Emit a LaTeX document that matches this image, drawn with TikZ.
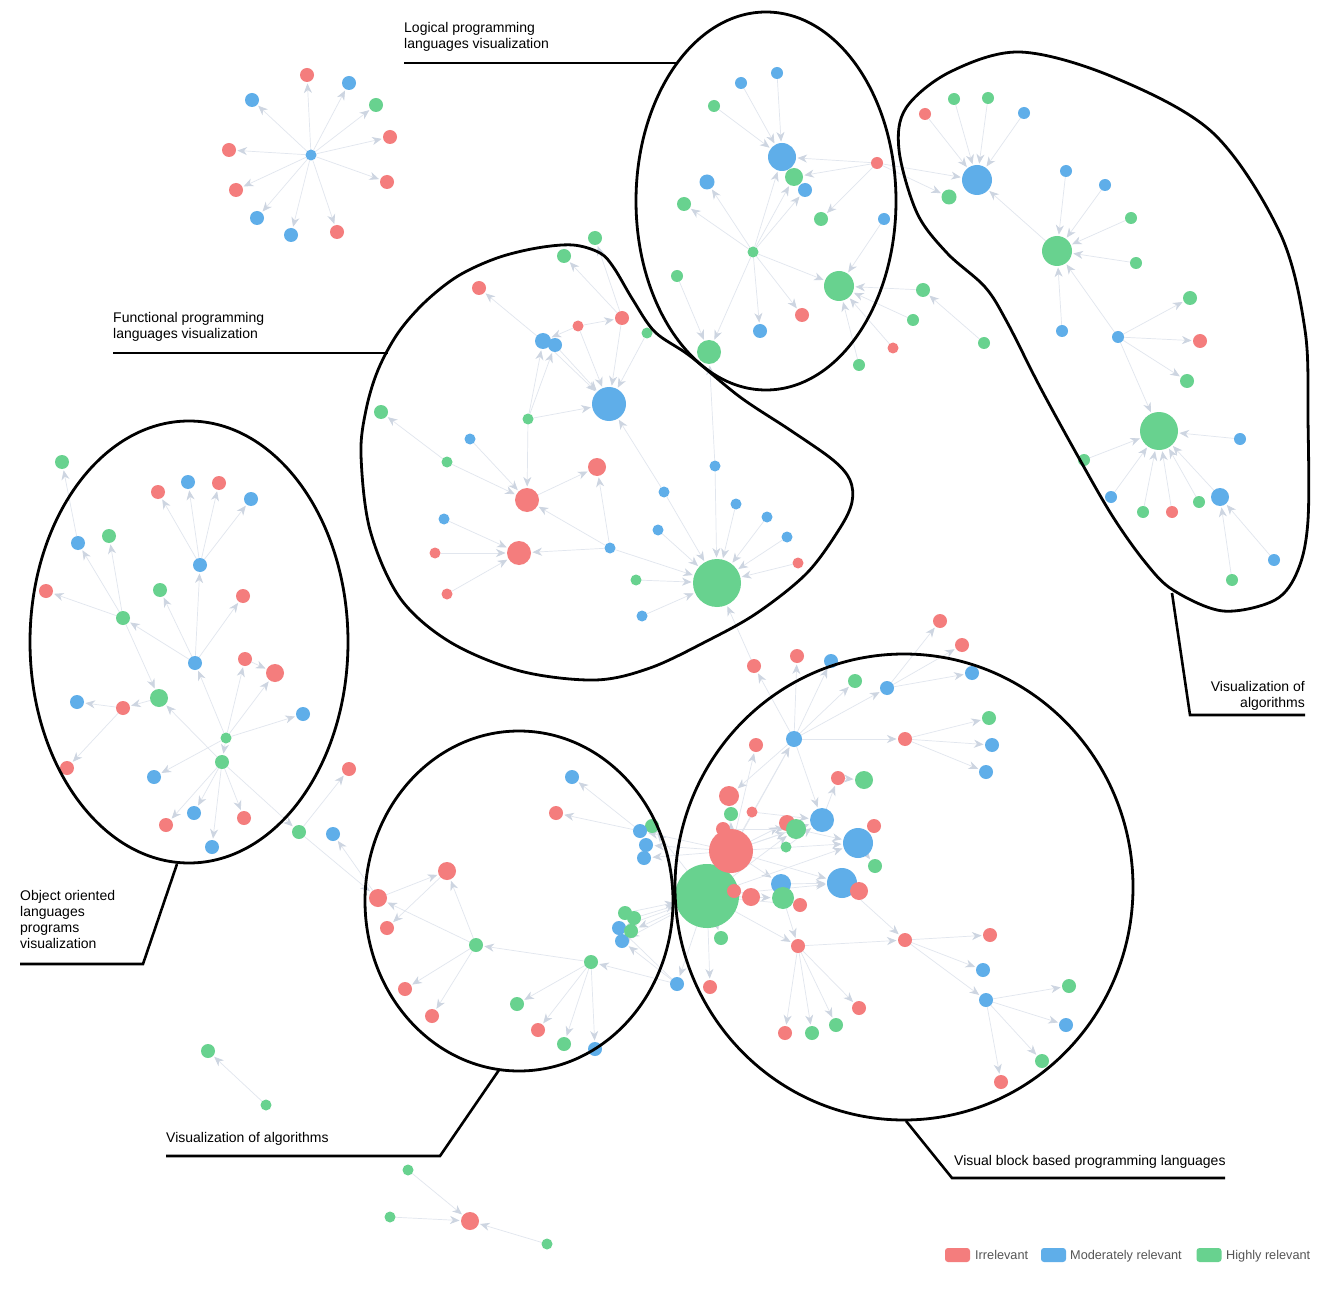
\documentclass[tikz,border=0pt]{standalone}
\usepackage{fontspec}
\setmainfont{Liberation Sans}
\usetikzlibrary{arrows.meta,backgrounds}
\definecolor{cR}{HTML}{F47D7D}
\definecolor{cB}{HTML}{5FAEE9}
\definecolor{cG}{HTML}{68D28F}
\definecolor{cE}{HTML}{E1E6EE}
\definecolor{cA}{HTML}{CDD5E1}
\definecolor{cT}{HTML}{555555}
\begin{document}
\begin{tikzpicture}[x=1pt,y=-1pt,
  nd/.style={circle,inner sep=0pt,outer sep=0pt,draw=none},
  rn/.style={nd,fill=cR,minimum size=#1},
  bn/.style={nd,fill=cB,minimum size=#1},
  gn/.style={nd,fill=cG,minimum size=#1},
  edge/.style={draw=cE,line width=0.7pt,-{Stealth[length=9.5pt,width=8pt,inset=3pt,color=cA]},shorten >=1.5pt},
  outline/.style={draw=black,line width=2.8pt},
  lead/.style={draw=black,line width=2.6pt},
  lbl/.style={font=\fontsize{14}{16}\selectfont,inner sep=0pt},
  leg/.style={font=\fontsize{12.7}{14}\selectfont,text=cT,inner sep=0pt,anchor=base west},
  key/.style={rectangle,rounded corners=3pt,minimum width=25pt,minimum height=14pt,inner sep=0pt,draw=none}]
\useasboundingbox (0,0) rectangle (1325,1305);

% ---------- cluster A (top-left star)
\node[bn=11] (a0) at (311,155) {};
\node[rn=14] (a1) at (307,75) {};
\node[bn=14] (a2) at (349,83) {};
\node[gn=14] (a3) at (376,105) {};
\node[rn=14] (a4) at (390,137) {};
\node[rn=14] (a5) at (387,182) {};
\node[rn=14] (a6) at (337,232) {};
\node[bn=14] (a7) at (291,235) {};
\node[bn=14] (a8) at (257,218) {};
\node[rn=14] (a9) at (236,190) {};
\node[rn=14] (a10) at (229,150) {};
\node[bn=14] (a11) at (252,100) {};

% ---------- logical
\node[bn=12] (L1) at (777,73) {};
\node[bn=12] (L2) at (741,83) {};
\node[gn=12] (L3) at (714,106) {};
\node[bn=28] (L4) at (782,157) {};
\node[gn=18] (L5) at (794,177) {};
\node[bn=14] (L6) at (805,190) {};
\node[rn=12] (L7) at (877,163) {};
\node[bn=15] (L8) at (707,182) {};
\node[gn=14] (L9) at (684,204) {};
\node[gn=14] (L10) at (821,219) {};
\node[bn=12] (L11) at (884,219) {};
\node[gn=11] (L12) at (753,252) {};
\node[gn=12] (L13) at (677,276) {};
\node[gn=30] (L14) at (839,286) {};
\node[rn=14] (L15) at (802,315) {};
\node[bn=14] (L16) at (760,331) {};
\node[gn=24] (L17) at (709,352) {};
\node[gn=14] (L18) at (923,290) {};
\node[gn=12] (L19) at (913,320) {};
\node[rn=11] (L20) at (893,348) {};
\node[gn=12] (L21) at (984,343) {};
\node[gn=12] (L22) at (859,365) {};

% ---------- algorithms (top right)
\node[rn=12] (T1) at (925,114) {};
\node[gn=12] (T2) at (954,99) {};
\node[gn=12] (T3) at (988,98) {};
\node[bn=12] (T4) at (1024,113) {};
\node[bn=30] (T5) at (977,180) {};
\node[gn=15] (T6) at (949,197) {};
\node[bn=12] (T7) at (1066,171) {};
\node[bn=12] (T8) at (1105,185) {};
\node[gn=12] (T9) at (1131,218) {};
\node[gn=12] (T10) at (1136,263) {};
\node[gn=30] (T11) at (1057,251) {};
\node[gn=14] (T12) at (1190,298) {};
\node[bn=12] (T13) at (1062,331) {};
\node[bn=12] (T14) at (1118,337) {};
\node[rn=14] (T15) at (1200,341) {};
\node[gn=14] (T16) at (1187,381) {};
\node[gn=38] (T17) at (1159,431) {};
\node[bn=12] (T18) at (1240,439) {};
\node[gn=12] (T19) at (1084,460) {};
\node[bn=12] (T20) at (1111,497) {};
\node[gn=12] (T21) at (1143,512) {};
\node[rn=12] (T22) at (1172,512) {};
\node[gn=12] (T23) at (1199,502) {};
\node[bn=18] (T24) at (1220,497) {};
\node[bn=12] (T25) at (1274,560) {};
\node[gn=12] (T26) at (1232,580) {};

% ---------- functional
\node[rn=14] (F1) at (479,288) {};
\node[gn=14] (F2) at (564,256) {};
\node[gn=14] (F3) at (595,238) {};
\node[rn=11] (F4) at (578,326) {};
\node[rn=14] (F5) at (622,318) {};
\node[gn=11] (F6) at (647,333) {};
\node[bn=16] (F7) at (543,341) {};
\node[bn=14] (F8) at (555,345) {};
\node[bn=34] (F9) at (609,404) {};
\node[gn=11] (F10) at (528,419) {};
\node[bn=11] (F11) at (470,439) {};
\node[gn=11] (F12) at (447,462) {};
\node[gn=14] (F13) at (381,412) {};
\node[rn=24] (F14) at (527,500) {};
\node[rn=18] (F15) at (597,467) {};
\node[bn=11] (F16) at (444,519) {};
\node[rn=24] (F17) at (519,553) {};
\node[rn=11] (F18) at (435,553) {};
\node[rn=11] (F19) at (447,594) {};
\node[bn=11] (F20) at (610,548) {};
\node[bn=11] (F21) at (664,492) {};
\node[bn=11] (F22) at (658,530) {};
\node[gn=11] (F23) at (636,580) {};
\node[bn=11] (F24) at (642,616) {};
\node[gn=48] (F25) at (717,583) {};
\node[bn=11] (F26) at (715,466) {};
\node[bn=11] (F27) at (736,504) {};
\node[bn=11] (F28) at (767,517) {};
\node[bn=11] (F29) at (787,537) {};
\node[rn=11] (F30) at (798,563) {};

% ---------- object oriented
\node[gn=14] (O1) at (62,462) {};
\node[rn=14] (O2) at (158,492) {};
\node[bn=14] (O3) at (188,482) {};
\node[rn=14] (O4) at (219,483) {};
\node[bn=14] (O5) at (251,499) {};
\node[bn=14] (O6) at (78,543) {};
\node[gn=14] (O7) at (109,536) {};
\node[bn=14] (O8) at (200,565) {};
\node[gn=14] (O9) at (160,590) {};
\node[rn=14] (O10) at (243,596) {};
\node[rn=14] (O11) at (46,591) {};
\node[gn=14] (O12) at (123,618) {};
\node[bn=14] (O13) at (195,663) {};
\node[rn=14] (O14) at (245,659) {};
\node[rn=18] (O15) at (275,673) {};
\node[gn=18] (O16) at (159,698) {};
\node[bn=14] (O17) at (77,702) {};
\node[rn=14] (O18) at (123,708) {};
\node[bn=14] (O19) at (303,714) {};
\node[gn=11] (O20) at (226,738) {};
\node[gn=14] (O21) at (222,762) {};
\node[rn=14] (O22) at (67,768) {};
\node[bn=14] (O23) at (154,777) {};
\node[bn=14] (O24) at (194,813) {};
\node[rn=14] (O25) at (244,818) {};
\node[rn=14] (O26) at (166,825) {};
\node[bn=14] (O27) at (212,847) {};
\node[gn=14] (O28) at (299,832) {};
\node[rn=14] (O29) at (349,769) {};
\node[bn=14] (O30) at (333,834) {};

% ---------- visualization of algorithms (bottom)
\node[bn=14] (P1) at (572,777) {};
\node[rn=14] (P2) at (556,813) {};
\node[gn=14] (P3) at (652,826) {};
\node[bn=14] (P4) at (640,831) {};
\node[bn=14] (P5) at (646,845) {};
\node[bn=14] (P6) at (644,858) {};
\node[rn=18] (P7) at (447,871) {};
\node[rn=18] (P8) at (378,898) {};
\node[rn=14] (P9) at (387,928) {};
\node[gn=14] (P10) at (476,945) {};
\node[bn=14] (P13) at (619,928) {};
\node[bn=14] (P15) at (622,941) {};
\node[gn=14] (P11) at (625,913) {};
\node[gn=14] (P12) at (634,918) {};
\node[gn=14] (P14) at (631,931) {};
\node[gn=14] (P16) at (591,962) {};
\node[bn=14] (P17) at (677,984) {};
\node[rn=14] (P18) at (405,989) {};
\node[rn=14] (P19) at (432,1016) {};
\node[gn=14] (P20) at (517,1004) {};
\node[rn=14] (P21) at (538,1030) {};
\node[gn=14] (P22) at (564,1044) {};
\node[bn=14] (P23) at (595,1049) {};

% ---------- visual block based (big circle)
\node[rn=14] (V1) at (754,666) {};
\node[rn=14] (V2) at (797,656) {};
\node[bn=14] (V3) at (831,661) {};
\node[gn=14] (V4) at (855,681) {};
\node[bn=14] (V5) at (887,688) {};
\node[rn=14] (V6) at (940,621) {};
\node[rn=14] (V7) at (962,645) {};
\node[bn=14] (V8) at (972,673) {};
\node[bn=16] (V9) at (794,739) {};
\node[rn=14] (V10) at (905,739) {};
\node[gn=14] (V11) at (989,718) {};
\node[bn=14] (V12) at (992,745) {};
\node[bn=14] (V13) at (986,772) {};
\node[rn=14] (V14) at (756,745) {};
\node[rn=14] (V15) at (838,778) {};
\node[gn=18] (V16) at (864,780) {};
\node[rn=20] (V17) at (729,796) {};
\node[gn=14] (V18) at (731,814) {};
\node[rn=11] (V19) at (752,812) {};
\node[rn=16] (V20) at (787,823) {};
\node[gn=20] (V21) at (796,829) {};
\node[bn=24] (V22) at (822,820) {};
\node[bn=30] (V24) at (858,843) {};
\node[rn=14] (V23) at (874,826) {};
\node[gn=14] (V25) at (875,866) {};
\node[gn=64] (V29) at (707,896) {};
\node[rn=14] (V26) at (723,829) {};
\node[rn=44] (V27) at (731,851) {};
\node[gn=11] (V28) at (786,847) {};
\node[rn=14] (V30) at (734,891) {};
\node[rn=18] (V31) at (751,897) {};
\node[bn=20] (V32) at (781,884) {};
\node[gn=22] (V33) at (783,898) {};
\node[rn=14] (V34) at (800,905) {};
\node[bn=30] (V35) at (842,883) {};
\node[rn=18] (V36) at (859,891) {};
\node[gn=14] (V37) at (721,938) {};
\node[rn=14] (V39) at (710,987) {};
\node[rn=14] (V40) at (798,946) {};
\node[rn=14] (V41) at (905,940) {};
\node[rn=14] (V42) at (990,935) {};
\node[bn=14] (V43) at (983,970) {};
\node[bn=14] (V44) at (986,1000) {};
\node[gn=14] (V45) at (1069,986) {};
\node[bn=14] (V46) at (1066,1025) {};
\node[gn=14] (V47) at (1042,1061) {};
\node[rn=14] (V48) at (1001,1082) {};
\node[rn=14] (V49) at (859,1008) {};
\node[rn=14] (V50) at (785,1033) {};
\node[gn=14] (V51) at (812,1033) {};
\node[gn=14] (V52) at (836,1025) {};

% ---------- isolated small graphs
\node[gn=14] (Q1) at (208,1051) {};
\node[gn=11] (Q2) at (266,1105) {};
\node[gn=11] (Q3) at (408,1170) {};
\node[gn=11] (Q4) at (390,1217) {};
\node[rn=18] (Q5) at (470,1221) {};
\node[gn=11] (Q6) at (547,1244) {};

% ---------- edges
\begin{pgfonlayer}{background}
\fill[white] (0,0) rectangle (1325,1305);
\foreach \u/\v in {a0/a1,a0/a2,a0/a3,a0/a4,a0/a5,a0/a6,a0/a7,a0/a8,a0/a9,a0/a10,a0/a11,
 L1/L4,L2/L4,L3/L4,L7/L4,L7/L5,L7/L10,L12/L4,L12/L5,L12/L6,L12/L8,L12/L9,L12/L14,L12/L15,L12/L16,L12/L17,L13/L17,L11/L14,L18/L14,L19/L14,L20/L14,L22/L14,L21/L18,L7/T5,L7/T6,F26/L17,
 T1/T5,T2/T5,T3/T5,T4/T5,T11/T5,T7/T11,T8/T11,T9/T11,T10/T11,T13/T11,T14/T11,T14/T12,T14/T15,T14/T16,T14/T17,T18/T17,T19/T17,T20/T17,T21/T17,T22/T17,T23/T17,T24/T17,T25/T24,T26/T24,
 F7/F1,F5/F2,F5/F3,F4/F5,F4/F7,F7/F9,F8/F9,F4/F9,F5/F9,F6/F9,F10/F9,F10/F7,F10/F8,F10/F14,F11/F14,F12/F14,F12/F13,F14/F15,F20/F15,F20/F14,F20/F17,F16/F17,F18/F17,F19/F17,F20/F25,F23/F25,F24/F25,F22/F25,F21/F25,F21/F9,F26/F25,F27/F25,F28/F25,F29/F25,F30/F25,V1/F25,
 O6/O1,O8/O2,O8/O3,O8/O4,O8/O5,O12/O6,O12/O7,O12/O11,O13/O8,O13/O12,O13/O9,O13/O10,O12/O16,O20/O13,O20/O14,O20/O15,O20/O19,O20/O21,O14/O15,O21/O16,O16/O18,O18/O17,O18/O22,O20/O23,O21/O24,O21/O26,O21/O27,O21/O25,O21/O28,O28/O29,P8/O30,O28/P8,
 P4/P1,P4/P2,P10/P7,P10/P8,P8/P7,P7/P9,P16/P10,P10/P18,P10/P19,P16/P20,P16/P21,P16/P22,P16/P23,P17/P16,V29/P17,V27/P4,V27/P5,V27/P6,V29/P3,P11/V29,P12/V29,V29/P13,V29/P14,V29/P15,P17/P15,P17/P13,
 V9/V1,V9/V2,V9/V3,V9/V4,V9/V5,V9/V10,V5/V6,V5/V7,V5/V8,V10/V11,V10/V12,V10/V13,V15/V16,V9/V22,V9/V17,V27/V9,V29/V9,V27/V14,V27/V17,V27/V18,V27/V20,V27/V21,V27/V22,V27/V24,V27/V32,V27/V35,V29/V30,V29/V31,V29/V33,V29/V34,V29/V21,V29/V24,V29/V35,V29/V37,V29/V39,V29/V40,V22/V15,V24/V23,V24/V25,V35/V36,V35/V41,V40/V41,V40/V49,V40/V50,V40/V51,V40/V52,V41/V42,V41/V43,V41/V44,V44/V45,V44/V46,V44/V47,V44/V48,V33/V40,V21/V24,V32/V35,V19/V22,V28/V22,V26/V21,
 Q2/Q1,Q3/Q5,Q4/Q5,Q6/Q5}
  \draw[edge] (\u) -- (\v);
\end{pgfonlayer}

% ---------- cluster outlines
\draw[outline] (766,201) ellipse [x radius=130, y radius=189];
\draw[outline] (189,642) ellipse [x radius=159, y radius=221];
\draw[outline] (519,901) ellipse [x radius=154, y radius=170];
\draw[outline] (904,887) ellipse [x radius=229, y radius=233];
\draw[outline] plot[smooth cycle,tension=0.55] coordinates {
 (1020,52) (1113,77) (1213,133) (1280,233) (1305,330) (1308,420) (1308,520)
 (1298,570) (1275,600) (1223,611) (1173,590) (1145,562) (1113,517) (1080,460)
 (1040,387) (1007,322) (985,287) (947,253) (917,213) (899,150) (906,108) (950,72)};
\draw[outline] plot[smooth cycle,tension=0.55] coordinates {
 (361,455) (366,410) (378,370) (398,333) (425,302) (458,276) (497,258) (537,248)
 (573,245) (600,253) (614,268)
 (633,300) (655,332) (690,356) (740,397) (790,430) (833,460) (850,480) (852,502)
 (840,528) (807,573) (757,613) (707,641) (650,668) (595,680) (520,671) (450,642)
 (400,598) (370,530)};

% ---------- leaders
\draw[lead] (404,63) -- (678,63);
\draw[lead] (113,353) -- (388,353);
\draw[lead] (177,864) -- (143,964) -- (20,964);
\draw[lead] (499,1070) -- (440,1156) -- (166,1156);
\draw[lead] (906,1121) -- (952,1178) -- (1225,1178);
\draw[lead] (1172,593) -- (1190,715) -- (1305,715);

% ---------- labels
\node[lbl,anchor=base west] (t1) at (404,33) {Logical programming};
\node[lbl,anchor=base west] (t2) at (404,49) {languages visualization};
\node[lbl,anchor=base west] (t3) at (113,323) {Functional programming};
\node[lbl,anchor=base west] (t4) at (113,339) {languages visualization};
\node[lbl,anchor=base west] (t5) at (20,900) {Object oriented};
\node[lbl,anchor=base west] (t6) at (20,916) {languages};
\node[lbl,anchor=base west] (t7) at (20,932) {programs};
\node[lbl,anchor=base west] (t8) at (20,948) {visualization};
\node[lbl,anchor=base west] (t9) at (166,1142) {Visualization of algorithms};
\node[lbl,anchor=base west] (t10) at (954,1165) {Visual block based programming languages};
\node[lbl,anchor=base east] (t11) at (1305,691) {Visualization of};
\node[lbl,anchor=base east] (t12) at (1305,707) {algorithms};

% ---------- legend
\node[key,fill=cR] (k1) at (957.5,1255) {};
\node[leg] (k1t) at (975,1259.5) {Irrelevant};
\node[key,fill=cB] (k2) at (1053.5,1255) {};
\node[leg] (k2t) at (1070,1259.5) {Moderately relevant};
\node[key,fill=cG] (k3) at (1209,1255) {};
\node[leg] (k3t) at (1226,1259.5) {Highly relevant};
\end{tikzpicture}
\end{document}
